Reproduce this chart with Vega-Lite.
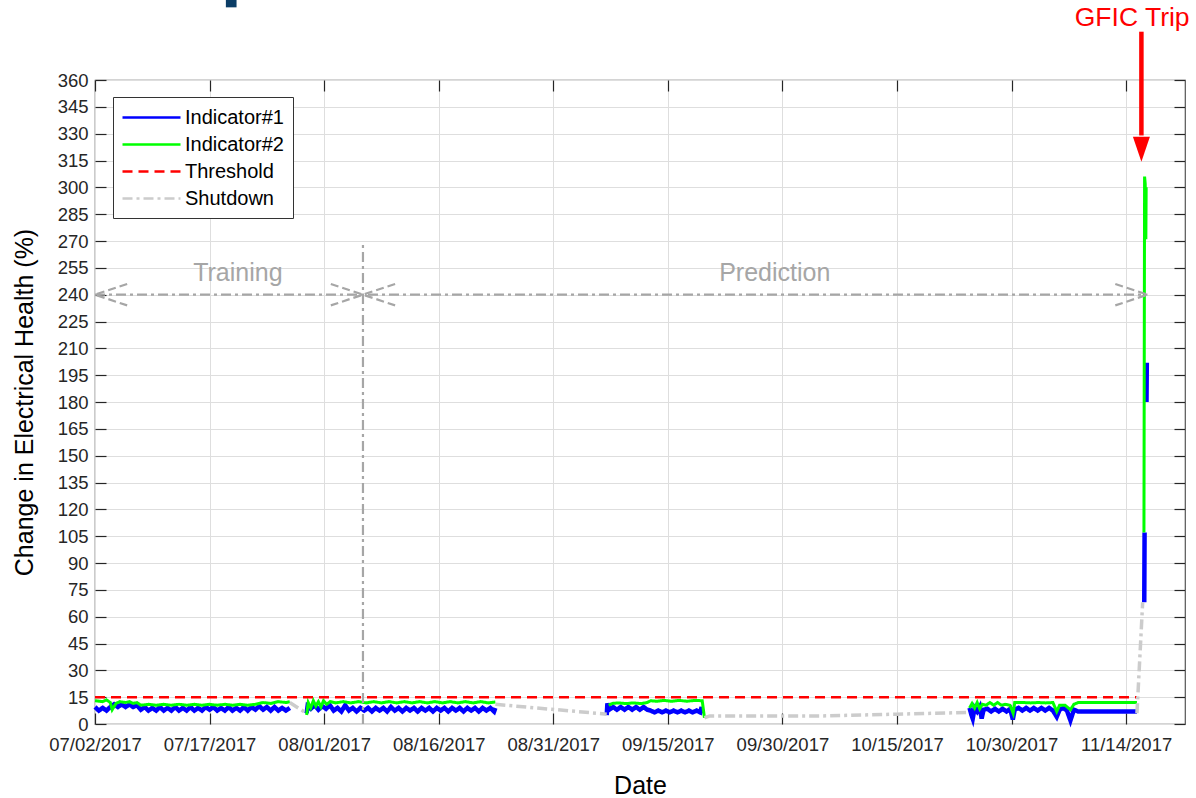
{
  "$schema": "https://vega.github.io/schema/vega-lite/v6.json",
  "width": 1090,
  "height": 644,
  "autosize": "none",
  "padding": {"left": 95, "top": 80, "right": 11, "bottom": 74},
  "background": "white",
  "config": {
    "font": "Liberation Sans",
    "view": {"stroke": "#555555", "strokeWidth": 1.2},
    "axis": {"labelFont": "Liberation Sans", "labelFontSize": 18.5, "labelColor": "#262626", "titleFont": "Liberation Sans", "titleFontSize": 25, "titleFontWeight": "normal", "titleColor": "#000000", "tickColor": "#262626", "tickWidth": 1.2, "tickSize": -11, "domain": false, "gridColor": "#dedede", "gridWidth": 1, "gridOpacity": 1, "labelOverlap": false, "labelFlush": false},
    "legend": {"orient": "none", "legendX": 18, "legendY": 17, "labelFont": "Liberation Sans", "labelFontSize": 20, "labelColor": "#000000", "strokeColor": "#333333", "fillColor": "#ffffff", "padding": 9, "rowPadding": 5, "symbolType": "M-2.9,0H2.9", "symbolSize": 400, "symbolStrokeWidth": 2.5, "symbolOffset": 18, "labelOffset": 22, "labelLimit": 300, "cornerRadius": 0}
  },
  "datasets": {
    "lines": [
      {"s":"Indicator#1","g":"b1","t":"2017-07-02T00:00","v":9.5},
      {"s":"Indicator#1","g":"b1","t":"2017-07-02T12:00","v":7.5},
      {"s":"Indicator#1","g":"b1","t":"2017-07-03T00:00","v":9},
      {"s":"Indicator#1","g":"b1","t":"2017-07-03T12:00","v":7.5},
      {"s":"Indicator#1","g":"b1","t":"2017-07-04T00:00","v":9.5},
      {"s":"Indicator#1","g":"b1","t":"2017-07-04T12:00","v":11},
      {"s":"Indicator#1","g":"b1","t":"2017-07-05T00:00","v":9.5},
      {"s":"Indicator#1","g":"b1","t":"2017-07-05T12:00","v":11},
      {"s":"Indicator#1","g":"b1","t":"2017-07-06T00:00","v":9.5},
      {"s":"Indicator#1","g":"b1","t":"2017-07-06T12:00","v":11},
      {"s":"Indicator#1","g":"b1","t":"2017-07-07T00:00","v":9.5},
      {"s":"Indicator#1","g":"b1","t":"2017-07-07T12:00","v":10.5},
      {"s":"Indicator#1","g":"b1","t":"2017-07-08T00:00","v":8},
      {"s":"Indicator#1","g":"b1","t":"2017-07-08T12:00","v":9.5},
      {"s":"Indicator#1","g":"b1","t":"2017-07-09T00:00","v":7.5},
      {"s":"Indicator#1","g":"b1","t":"2017-07-09T12:00","v":9},
      {"s":"Indicator#1","g":"b1","t":"2017-07-10T00:00","v":7.5},
      {"s":"Indicator#1","g":"b1","t":"2017-07-10T12:00","v":9.5},
      {"s":"Indicator#1","g":"b1","t":"2017-07-11T00:00","v":7.5},
      {"s":"Indicator#1","g":"b1","t":"2017-07-11T12:00","v":9},
      {"s":"Indicator#1","g":"b1","t":"2017-07-12T00:00","v":7.5},
      {"s":"Indicator#1","g":"b1","t":"2017-07-12T12:00","v":9.5},
      {"s":"Indicator#1","g":"b1","t":"2017-07-13T00:00","v":7.5},
      {"s":"Indicator#1","g":"b1","t":"2017-07-13T12:00","v":9},
      {"s":"Indicator#1","g":"b1","t":"2017-07-14T00:00","v":7.5},
      {"s":"Indicator#1","g":"b1","t":"2017-07-14T12:00","v":9.5},
      {"s":"Indicator#1","g":"b1","t":"2017-07-15T00:00","v":7.5},
      {"s":"Indicator#1","g":"b1","t":"2017-07-15T12:00","v":9},
      {"s":"Indicator#1","g":"b1","t":"2017-07-16T00:00","v":7.5},
      {"s":"Indicator#1","g":"b1","t":"2017-07-16T12:00","v":9.5},
      {"s":"Indicator#1","g":"b1","t":"2017-07-17T00:00","v":8},
      {"s":"Indicator#1","g":"b1","t":"2017-07-17T12:00","v":9.5},
      {"s":"Indicator#1","g":"b1","t":"2017-07-18T00:00","v":7.5},
      {"s":"Indicator#1","g":"b1","t":"2017-07-18T12:00","v":9},
      {"s":"Indicator#1","g":"b1","t":"2017-07-19T00:00","v":7.5},
      {"s":"Indicator#1","g":"b1","t":"2017-07-19T12:00","v":9.5},
      {"s":"Indicator#1","g":"b1","t":"2017-07-20T00:00","v":7.5},
      {"s":"Indicator#1","g":"b1","t":"2017-07-20T12:00","v":9},
      {"s":"Indicator#1","g":"b1","t":"2017-07-21T00:00","v":7.5},
      {"s":"Indicator#1","g":"b1","t":"2017-07-21T12:00","v":9.5},
      {"s":"Indicator#1","g":"b1","t":"2017-07-22T00:00","v":7.5},
      {"s":"Indicator#1","g":"b1","t":"2017-07-22T12:00","v":9.5},
      {"s":"Indicator#1","g":"b1","t":"2017-07-23T00:00","v":8},
      {"s":"Indicator#1","g":"b1","t":"2017-07-23T12:00","v":10},
      {"s":"Indicator#1","g":"b1","t":"2017-07-24T00:00","v":8},
      {"s":"Indicator#1","g":"b1","t":"2017-07-24T12:00","v":9.5},
      {"s":"Indicator#1","g":"b1","t":"2017-07-25T00:00","v":7.5},
      {"s":"Indicator#1","g":"b1","t":"2017-07-25T12:00","v":9.5},
      {"s":"Indicator#1","g":"b1","t":"2017-07-26T00:00","v":7.5},
      {"s":"Indicator#1","g":"b1","t":"2017-07-26T12:00","v":9},
      {"s":"Indicator#1","g":"b1","t":"2017-07-27T00:00","v":7.5},
      {"s":"Indicator#1","g":"b1","t":"2017-07-27T12:00","v":9},

      {"s":"Indicator#2","g":"g1","t":"2017-07-02T00:00","v":13},
      {"s":"Indicator#2","g":"g1","t":"2017-07-03T00:00","v":12.5},
      {"s":"Indicator#2","g":"g1","t":"2017-07-03T12:00","v":13.5},
      {"s":"Indicator#2","g":"g1","t":"2017-07-04T00:00","v":12},
      {"s":"Indicator#2","g":"g1","t":"2017-07-04T06:00","v":8},
      {"s":"Indicator#2","g":"g1","t":"2017-07-04T18:00","v":11.5},
      {"s":"Indicator#2","g":"g1","t":"2017-07-05T06:00","v":12.5},
      {"s":"Indicator#2","g":"g1","t":"2017-07-06T00:00","v":12},
      {"s":"Indicator#2","g":"g1","t":"2017-07-06T12:00","v":12.5},
      {"s":"Indicator#2","g":"g1","t":"2017-07-07T00:00","v":11.5},
      {"s":"Indicator#2","g":"g1","t":"2017-07-07T12:00","v":12},
      {"s":"Indicator#2","g":"g1","t":"2017-07-08T00:00","v":10.5},
      {"s":"Indicator#2","g":"g1","t":"2017-07-09T00:00","v":11},
      {"s":"Indicator#2","g":"g1","t":"2017-07-10T00:00","v":10.5},
      {"s":"Indicator#2","g":"g1","t":"2017-07-11T00:00","v":11},
      {"s":"Indicator#2","g":"g1","t":"2017-07-12T00:00","v":10.5},
      {"s":"Indicator#2","g":"g1","t":"2017-07-13T00:00","v":11},
      {"s":"Indicator#2","g":"g1","t":"2017-07-14T00:00","v":10.5},
      {"s":"Indicator#2","g":"g1","t":"2017-07-15T00:00","v":11},
      {"s":"Indicator#2","g":"g1","t":"2017-07-16T00:00","v":10.5},
      {"s":"Indicator#2","g":"g1","t":"2017-07-17T00:00","v":11},
      {"s":"Indicator#2","g":"g1","t":"2017-07-18T00:00","v":10.5},
      {"s":"Indicator#2","g":"g1","t":"2017-07-19T00:00","v":11},
      {"s":"Indicator#2","g":"g1","t":"2017-07-20T00:00","v":10.5},
      {"s":"Indicator#2","g":"g1","t":"2017-07-21T00:00","v":11},
      {"s":"Indicator#2","g":"g1","t":"2017-07-22T00:00","v":10.5},
      {"s":"Indicator#2","g":"g1","t":"2017-07-23T00:00","v":11},
      {"s":"Indicator#2","g":"g1","t":"2017-07-24T00:00","v":12},
      {"s":"Indicator#2","g":"g1","t":"2017-07-25T00:00","v":11.5},
      {"s":"Indicator#2","g":"g1","t":"2017-07-26T00:00","v":12.5},
      {"s":"Indicator#2","g":"g1","t":"2017-07-27T00:00","v":12},
      {"s":"Indicator#2","g":"g1","t":"2017-07-27T12:00","v":12.5},

      {"s":"Indicator#1","g":"b2","t":"2017-07-29T17:00","v":6},
      {"s":"Indicator#1","g":"b2","t":"2017-07-29T20:00","v":10},
      {"s":"Indicator#1","g":"b2","t":"2017-07-30T06:00","v":8.5},
      {"s":"Indicator#1","g":"b2","t":"2017-07-30T18:00","v":10.5},
      {"s":"Indicator#1","g":"b2","t":"2017-07-31T06:00","v":8},
      {"s":"Indicator#1","g":"b2","t":"2017-07-31T18:00","v":10},
      {"s":"Indicator#1","g":"b2","t":"2017-08-01T06:00","v":8.5},
      {"s":"Indicator#1","g":"b2","t":"2017-08-01T18:00","v":10.5},
      {"s":"Indicator#1","g":"b2","t":"2017-08-02T06:00","v":7.5},
      {"s":"Indicator#1","g":"b2","t":"2017-08-02T18:00","v":9},
      {"s":"Indicator#1","g":"b2","t":"2017-08-03T06:00","v":7},
      {"s":"Indicator#1","g":"b2","t":"2017-08-03T18:00","v":10.5},
      {"s":"Indicator#1","g":"b2","t":"2017-08-04T06:00","v":7.5},
      {"s":"Indicator#1","g":"b2","t":"2017-08-04T18:00","v":9},
      {"s":"Indicator#1","g":"b2","t":"2017-08-05T06:00","v":7},
      {"s":"Indicator#1","g":"b2","t":"2017-08-05T18:00","v":9},
      {"s":"Indicator#1","g":"b2","t":"2017-08-06T06:00","v":7.5},
      {"s":"Indicator#1","g":"b2","t":"2017-08-06T18:00","v":9},
      {"s":"Indicator#1","g":"b2","t":"2017-08-07T06:00","v":7},
      {"s":"Indicator#1","g":"b2","t":"2017-08-07T18:00","v":9},
      {"s":"Indicator#1","g":"b2","t":"2017-08-08T06:00","v":7.5},
      {"s":"Indicator#1","g":"b2","t":"2017-08-08T18:00","v":9},
      {"s":"Indicator#1","g":"b2","t":"2017-08-09T06:00","v":7},
      {"s":"Indicator#1","g":"b2","t":"2017-08-09T18:00","v":9.5},
      {"s":"Indicator#1","g":"b2","t":"2017-08-10T06:00","v":7.5},
      {"s":"Indicator#1","g":"b2","t":"2017-08-10T18:00","v":9},
      {"s":"Indicator#1","g":"b2","t":"2017-08-11T06:00","v":7},
      {"s":"Indicator#1","g":"b2","t":"2017-08-11T18:00","v":9},
      {"s":"Indicator#1","g":"b2","t":"2017-08-12T06:00","v":7.5},
      {"s":"Indicator#1","g":"b2","t":"2017-08-12T18:00","v":9},
      {"s":"Indicator#1","g":"b2","t":"2017-08-13T06:00","v":7},
      {"s":"Indicator#1","g":"b2","t":"2017-08-13T18:00","v":9},
      {"s":"Indicator#1","g":"b2","t":"2017-08-14T06:00","v":7.5},
      {"s":"Indicator#1","g":"b2","t":"2017-08-14T18:00","v":9},
      {"s":"Indicator#1","g":"b2","t":"2017-08-15T06:00","v":7},
      {"s":"Indicator#1","g":"b2","t":"2017-08-15T18:00","v":9},
      {"s":"Indicator#1","g":"b2","t":"2017-08-16T06:00","v":7.5},
      {"s":"Indicator#1","g":"b2","t":"2017-08-16T18:00","v":9},
      {"s":"Indicator#1","g":"b2","t":"2017-08-17T06:00","v":7},
      {"s":"Indicator#1","g":"b2","t":"2017-08-17T18:00","v":9},
      {"s":"Indicator#1","g":"b2","t":"2017-08-18T06:00","v":7.5},
      {"s":"Indicator#1","g":"b2","t":"2017-08-18T18:00","v":9},
      {"s":"Indicator#1","g":"b2","t":"2017-08-19T06:00","v":7},
      {"s":"Indicator#1","g":"b2","t":"2017-08-19T18:00","v":9},
      {"s":"Indicator#1","g":"b2","t":"2017-08-20T06:00","v":7.5},
      {"s":"Indicator#1","g":"b2","t":"2017-08-20T18:00","v":9},
      {"s":"Indicator#1","g":"b2","t":"2017-08-21T06:00","v":7},
      {"s":"Indicator#1","g":"b2","t":"2017-08-21T18:00","v":9},
      {"s":"Indicator#1","g":"b2","t":"2017-08-22T06:00","v":7.5},
      {"s":"Indicator#1","g":"b2","t":"2017-08-22T18:00","v":9},
      {"s":"Indicator#1","g":"b2","t":"2017-08-23T06:00","v":7},
      {"s":"Indicator#1","g":"b2","t":"2017-08-23T10:00","v":9},

      {"s":"Indicator#2","g":"g2","t":"2017-07-29T17:00","v":5},
      {"s":"Indicator#2","g":"g2","t":"2017-07-29T22:00","v":12},
      {"s":"Indicator#2","g":"g2","t":"2017-07-30T06:00","v":9},
      {"s":"Indicator#2","g":"g2","t":"2017-07-30T14:00","v":13},
      {"s":"Indicator#2","g":"g2","t":"2017-07-30T22:00","v":10},
      {"s":"Indicator#2","g":"g2","t":"2017-07-31T06:00","v":12.5},
      {"s":"Indicator#2","g":"g2","t":"2017-07-31T14:00","v":9.5},
      {"s":"Indicator#2","g":"g2","t":"2017-07-31T22:00","v":13},
      {"s":"Indicator#2","g":"g2","t":"2017-08-01T08:00","v":11},
      {"s":"Indicator#2","g":"g2","t":"2017-08-01T19:00","v":12.5},
      {"s":"Indicator#2","g":"g2","t":"2017-08-02T12:00","v":11.8},
      {"s":"Indicator#2","g":"g2","t":"2017-08-03T12:00","v":12.5},
      {"s":"Indicator#2","g":"g2","t":"2017-08-04T12:00","v":11.8},
      {"s":"Indicator#2","g":"g2","t":"2017-08-05T12:00","v":12.5},
      {"s":"Indicator#2","g":"g2","t":"2017-08-06T12:00","v":11.8},
      {"s":"Indicator#2","g":"g2","t":"2017-08-07T12:00","v":12.5},
      {"s":"Indicator#2","g":"g2","t":"2017-08-08T12:00","v":11.8},
      {"s":"Indicator#2","g":"g2","t":"2017-08-09T12:00","v":12.5},
      {"s":"Indicator#2","g":"g2","t":"2017-08-10T12:00","v":11.8},
      {"s":"Indicator#2","g":"g2","t":"2017-08-11T12:00","v":12.5},
      {"s":"Indicator#2","g":"g2","t":"2017-08-12T12:00","v":11.8},
      {"s":"Indicator#2","g":"g2","t":"2017-08-13T12:00","v":12.5},
      {"s":"Indicator#2","g":"g2","t":"2017-08-14T12:00","v":11.8},
      {"s":"Indicator#2","g":"g2","t":"2017-08-15T12:00","v":12.5},
      {"s":"Indicator#2","g":"g2","t":"2017-08-16T12:00","v":11.8},
      {"s":"Indicator#2","g":"g2","t":"2017-08-17T12:00","v":12.5},
      {"s":"Indicator#2","g":"g2","t":"2017-08-18T12:00","v":11.8},
      {"s":"Indicator#2","g":"g2","t":"2017-08-19T12:00","v":12.5},
      {"s":"Indicator#2","g":"g2","t":"2017-08-20T12:00","v":11.8},
      {"s":"Indicator#2","g":"g2","t":"2017-08-21T12:00","v":12.5},
      {"s":"Indicator#2","g":"g2","t":"2017-08-22T12:00","v":11.8},
      {"s":"Indicator#2","g":"g2","t":"2017-08-23T10:00","v":12.3},

      {"s":"Indicator#1","g":"b3","t":"2017-09-07T00:00","v":5},
      {"s":"Indicator#1","g":"b3","t":"2017-09-07T02:00","v":11.5},
      {"s":"Indicator#1","g":"b3","t":"2017-09-07T08:00","v":8},
      {"s":"Indicator#1","g":"b3","t":"2017-09-07T20:00","v":9.5},
      {"s":"Indicator#1","g":"b3","t":"2017-09-08T08:00","v":8},
      {"s":"Indicator#1","g":"b3","t":"2017-09-08T20:00","v":9.5},
      {"s":"Indicator#1","g":"b3","t":"2017-09-09T08:00","v":8},
      {"s":"Indicator#1","g":"b3","t":"2017-09-09T20:00","v":9.5},
      {"s":"Indicator#1","g":"b3","t":"2017-09-10T08:00","v":8},
      {"s":"Indicator#1","g":"b3","t":"2017-09-10T20:00","v":9.5},
      {"s":"Indicator#1","g":"b3","t":"2017-09-11T08:00","v":8},
      {"s":"Indicator#1","g":"b3","t":"2017-09-11T20:00","v":9.5},
      {"s":"Indicator#1","g":"b3","t":"2017-09-12T07:00","v":8},
      {"s":"Indicator#1","g":"b3","t":"2017-09-12T18:00","v":7.5},
      {"s":"Indicator#1","g":"b3","t":"2017-09-13T06:00","v":6.5},
      {"s":"Indicator#1","g":"b3","t":"2017-09-13T18:00","v":7.5},
      {"s":"Indicator#1","g":"b3","t":"2017-09-14T06:00","v":6.5},
      {"s":"Indicator#1","g":"b3","t":"2017-09-14T18:00","v":7.5},
      {"s":"Indicator#1","g":"b3","t":"2017-09-15T06:00","v":6.5},
      {"s":"Indicator#1","g":"b3","t":"2017-09-15T18:00","v":7.5},
      {"s":"Indicator#1","g":"b3","t":"2017-09-16T06:00","v":6.5},
      {"s":"Indicator#1","g":"b3","t":"2017-09-16T18:00","v":7.5},
      {"s":"Indicator#1","g":"b3","t":"2017-09-17T06:00","v":6.5},
      {"s":"Indicator#1","g":"b3","t":"2017-09-17T18:00","v":7.5},
      {"s":"Indicator#1","g":"b3","t":"2017-09-18T06:00","v":6.5},
      {"s":"Indicator#1","g":"b3","t":"2017-09-18T18:00","v":7.5},
      {"s":"Indicator#1","g":"b3","t":"2017-09-19T06:00","v":6.5},
      {"s":"Indicator#1","g":"b3","t":"2017-09-19T10:00","v":9.5},
      {"s":"Indicator#1","g":"b3","t":"2017-09-19T12:00","v":6},

      {"s":"Indicator#2","g":"g3","t":"2017-09-07T06:00","v":10.5},
      {"s":"Indicator#2","g":"g3","t":"2017-09-07T18:00","v":11.5},
      {"s":"Indicator#2","g":"g3","t":"2017-09-08T12:00","v":11.8},
      {"s":"Indicator#2","g":"g3","t":"2017-09-09T12:00","v":11.4},
      {"s":"Indicator#2","g":"g3","t":"2017-09-10T12:00","v":11.8},
      {"s":"Indicator#2","g":"g3","t":"2017-09-11T12:00","v":11.4},
      {"s":"Indicator#2","g":"g3","t":"2017-09-12T07:00","v":12},
      {"s":"Indicator#2","g":"g3","t":"2017-09-12T18:00","v":13},
      {"s":"Indicator#2","g":"g3","t":"2017-09-13T12:00","v":12.7},
      {"s":"Indicator#2","g":"g3","t":"2017-09-14T12:00","v":13.2},
      {"s":"Indicator#2","g":"g3","t":"2017-09-15T12:00","v":12.7},
      {"s":"Indicator#2","g":"g3","t":"2017-09-16T12:00","v":13.2},
      {"s":"Indicator#2","g":"g3","t":"2017-09-17T12:00","v":12.7},
      {"s":"Indicator#2","g":"g3","t":"2017-09-18T12:00","v":13.2},
      {"s":"Indicator#2","g":"g3","t":"2017-09-19T12:00","v":13},
      {"s":"Indicator#2","g":"g3","t":"2017-09-19T19:00","v":3.5},

      {"s":"Indicator#1","g":"b4","t":"2017-10-24T12:00","v":9},
      {"s":"Indicator#1","g":"b4","t":"2017-10-24T18:00","v":5},
      {"s":"Indicator#1","g":"b4","t":"2017-10-24T22:00","v":3},
      {"s":"Indicator#1","g":"b4","t":"2017-10-25T04:00","v":9},
      {"s":"Indicator#1","g":"b4","t":"2017-10-25T12:00","v":7},
      {"s":"Indicator#1","g":"b4","t":"2017-10-25T20:00","v":9.5},
      {"s":"Indicator#1","g":"b4","t":"2017-10-26T02:00","v":3},
      {"s":"Indicator#1","g":"b4","t":"2017-10-26T08:00","v":8},
      {"s":"Indicator#1","g":"b4","t":"2017-10-26T20:00","v":8.5},
      {"s":"Indicator#1","g":"b4","t":"2017-10-27T08:00","v":7},
      {"s":"Indicator#1","g":"b4","t":"2017-10-27T20:00","v":8.5},
      {"s":"Indicator#1","g":"b4","t":"2017-10-28T08:00","v":7},
      {"s":"Indicator#1","g":"b4","t":"2017-10-28T20:00","v":8.5},
      {"s":"Indicator#1","g":"b4","t":"2017-10-29T08:00","v":7},
      {"s":"Indicator#1","g":"b4","t":"2017-10-29T20:00","v":8.5},
      {"s":"Indicator#1","g":"b4","t":"2017-10-30T04:00","v":2.5},
      {"s":"Indicator#1","g":"b4","t":"2017-10-30T10:00","v":8},
      {"s":"Indicator#1","g":"b4","t":"2017-10-30T22:00","v":9},
      {"s":"Indicator#1","g":"b4","t":"2017-10-31T10:00","v":7.5},
      {"s":"Indicator#1","g":"b4","t":"2017-10-31T22:00","v":9},
      {"s":"Indicator#1","g":"b4","t":"2017-11-01T10:00","v":7.5},
      {"s":"Indicator#1","g":"b4","t":"2017-11-01T22:00","v":9},
      {"s":"Indicator#1","g":"b4","t":"2017-11-02T10:00","v":7.5},
      {"s":"Indicator#1","g":"b4","t":"2017-11-02T22:00","v":9},
      {"s":"Indicator#1","g":"b4","t":"2017-11-03T10:00","v":7.5},
      {"s":"Indicator#1","g":"b4","t":"2017-11-03T22:00","v":9},
      {"s":"Indicator#1","g":"b4","t":"2017-11-04T10:00","v":7.5},
      {"s":"Indicator#1","g":"b4","t":"2017-11-04T22:00","v":4},
      {"s":"Indicator#1","g":"b4","t":"2017-11-05T07:00","v":8},
      {"s":"Indicator#1","g":"b4","t":"2017-11-05T19:00","v":9},
      {"s":"Indicator#1","g":"b4","t":"2017-11-06T06:00","v":7.5},
      {"s":"Indicator#1","g":"b4","t":"2017-11-06T17:00","v":2},
      {"s":"Indicator#1","g":"b4","t":"2017-11-07T04:00","v":8},
      {"s":"Indicator#1","g":"b4","t":"2017-11-07T17:00","v":7},
      {"s":"Indicator#1","g":"b4","t":"2017-11-09T12:00","v":7},
      {"s":"Indicator#1","g":"b4","t":"2017-11-12T12:00","v":7},
      {"s":"Indicator#1","g":"b4","t":"2017-11-15T10:00","v":7},

      {"s":"Indicator#2","g":"g4","t":"2017-10-24T12:00","v":9},
      {"s":"Indicator#2","g":"g4","t":"2017-10-24T20:00","v":11.5},
      {"s":"Indicator#2","g":"g4","t":"2017-10-25T04:00","v":9},
      {"s":"Indicator#2","g":"g4","t":"2017-10-25T12:00","v":12},
      {"s":"Indicator#2","g":"g4","t":"2017-10-25T20:00","v":8.5},
      {"s":"Indicator#2","g":"g4","t":"2017-10-26T04:00","v":11},
      {"s":"Indicator#2","g":"g4","t":"2017-10-26T16:00","v":10.5},
      {"s":"Indicator#2","g":"g4","t":"2017-10-27T04:00","v":12},
      {"s":"Indicator#2","g":"g4","t":"2017-10-27T16:00","v":10.5},
      {"s":"Indicator#2","g":"g4","t":"2017-10-28T04:00","v":12},
      {"s":"Indicator#2","g":"g4","t":"2017-10-28T16:00","v":10.5},
      {"s":"Indicator#2","g":"g4","t":"2017-10-29T04:00","v":11},
      {"s":"Indicator#2","g":"g4","t":"2017-10-29T19:00","v":10.5},
      {"s":"Indicator#2","g":"g4","t":"2017-10-30T05:00","v":6},
      {"s":"Indicator#2","g":"g4","t":"2017-10-30T10:00","v":12},
      {"s":"Indicator#2","g":"g4","t":"2017-10-31T12:00","v":12},
      {"s":"Indicator#2","g":"g4","t":"2017-11-01T12:00","v":11.8},
      {"s":"Indicator#2","g":"g4","t":"2017-11-02T12:00","v":12},
      {"s":"Indicator#2","g":"g4","t":"2017-11-03T12:00","v":11.8},
      {"s":"Indicator#2","g":"g4","t":"2017-11-04T10:00","v":12},
      {"s":"Indicator#2","g":"g4","t":"2017-11-04T22:00","v":7},
      {"s":"Indicator#2","g":"g4","t":"2017-11-05T07:00","v":10.5},
      {"s":"Indicator#2","g":"g4","t":"2017-11-06T00:00","v":10.5},
      {"s":"Indicator#2","g":"g4","t":"2017-11-06T17:00","v":8},
      {"s":"Indicator#2","g":"g4","t":"2017-11-07T04:00","v":11},
      {"s":"Indicator#2","g":"g4","t":"2017-11-07T17:00","v":12},
      {"s":"Indicator#2","g":"g4","t":"2017-11-10T00:00","v":12},
      {"s":"Indicator#2","g":"g4","t":"2017-11-13T00:00","v":12},
      {"s":"Indicator#2","g":"g4","t":"2017-11-15T10:00","v":12},

      {"s":"Indicator#2","g":"g5","t":"2017-11-16T08:00","v":107},
      {"s":"Indicator#2","g":"g5","t":"2017-11-16T10:00","v":306},
      {"s":"Indicator#2","g":"g5","t":"2017-11-16T12:00","v":302},
      {"s":"Indicator#2","g":"g5","t":"2017-11-16T14:00","v":271},
      {"s":"Indicator#2","g":"g5","t":"2017-11-16T15:00","v":300},

      {"s":"Indicator#1","g":"b5","t":"2017-11-16T09:00","v":68},
      {"s":"Indicator#1","g":"b5","t":"2017-11-16T10:00","v":107},
      {"s":"Indicator#1","g":"b6","t":"2017-11-16T16:00","v":180},
      {"s":"Indicator#1","g":"b6","t":"2017-11-16T17:00","v":202},

      {"s":"Threshold","g":"t1","t":"2017-07-02T00:00","v":15},
      {"s":"Threshold","g":"t1","t":"2017-11-15T10:00","v":15},

      {"s":"Shutdown","g":"s1","t":"2017-07-27T12:00","v":12},
      {"s":"Shutdown","g":"s1","t":"2017-07-29T17:00","v":6},
      {"s":"Shutdown","g":"s2","t":"2017-08-23T10:00","v":11},
      {"s":"Shutdown","g":"s2","t":"2017-09-07T00:00","v":5.5},
      {"s":"Shutdown","g":"s3","t":"2017-09-19T19:00","v":3.5},
      {"s":"Shutdown","g":"s3","t":"2017-09-20T12:00","v":4.5},
      {"s":"Shutdown","g":"s3","t":"2017-10-05T00:00","v":4.5},
      {"s":"Shutdown","g":"s3","t":"2017-10-15T00:00","v":5.5},
      {"s":"Shutdown","g":"s3","t":"2017-10-24T12:00","v":6.5},
      {"s":"Shutdown","g":"s4","t":"2017-11-15T10:00","v":6},
      {"s":"Shutdown","g":"s4","t":"2017-11-16T04:00","v":68}
    ],
    "ann": [
      {"k":"main","id":"h","o":1,"t":"2017-07-02T00:00","v":240},
      {"k":"main","id":"h","o":2,"t":"2017-11-16T19:00","v":240},
      {"k":"main","id":"v","o":1,"t":"2017-08-06T02:00","v":0},
      {"k":"main","id":"v","o":2,"t":"2017-08-06T02:00","v":270},
      {"k":"arm","id":"a1","o":1,"t":"2017-07-06T05:00","v":246},
      {"k":"arm","id":"a1","o":2,"t":"2017-07-02T00:00","v":240},
      {"k":"arm","id":"a1","o":3,"t":"2017-07-06T05:00","v":234},
      {"k":"arm","id":"a2","o":1,"t":"2017-08-01T21:00","v":246},
      {"k":"arm","id":"a2","o":2,"t":"2017-08-06T02:00","v":240},
      {"k":"arm","id":"a2","o":3,"t":"2017-08-01T21:00","v":234},
      {"k":"arm","id":"a3","o":1,"t":"2017-08-10T07:00","v":246},
      {"k":"arm","id":"a3","o":2,"t":"2017-08-06T02:00","v":240},
      {"k":"arm","id":"a3","o":3,"t":"2017-08-10T07:00","v":234},
      {"k":"arm","id":"a4","o":1,"t":"2017-11-12T14:00","v":246},
      {"k":"arm","id":"a4","o":2,"t":"2017-11-16T19:00","v":240},
      {"k":"arm","id":"a4","o":3,"t":"2017-11-12T14:00","v":234}
    ]
  },
  "resolve": {"axis": {"x": "independent", "y": "independent"}},
  "layer": [
    {
      "data": {"name": "lines"},
      "transform": [{"filter": "datum.s === 'Indicator#1'"}],
      "mark": {"type": "line", "strokeWidth": 4.5, "strokeCap": "butt"},
      "encoding": {
        "x": {"field": "t", "type": "temporal", "scale": {"domain": [{"year": 2017, "month": 7, "date": 2}, {"year": 2017, "month": 11, "date": 21, "hours": 17}]},
          "axis": {"orient": "bottom", "values": [{"year":2017,"month":7,"date":2},{"year":2017,"month":7,"date":17},{"year":2017,"month":8,"date":1},{"year":2017,"month":8,"date":16},{"year":2017,"month":8,"date":31},{"year":2017,"month":9,"date":15},{"year":2017,"month":9,"date":30},{"year":2017,"month":10,"date":15},{"year":2017,"month":10,"date":30},{"year":2017,"month":11,"date":14}], "format": "%m/%d/%Y", "grid": true, "labelPadding": 22, "title": "Date", "titlePadding": 20}},
        "y": {"field": "v", "type": "quantitative", "scale": {"domain": [0, 360], "nice": false},
          "axis": {"orient": "left", "values": [0,15,30,45,60,75,90,105,120,135,150,165,180,195,210,225,240,255,270,285,300,315,330,345,360], "grid": true, "labelPadding": 18, "title": "Change in Electrical Health (%)", "titlePadding": 20}},
        "color": {"field": "s", "type": "nominal", "scale": {"domain": ["Indicator#1", "Indicator#2", "Threshold", "Shutdown"], "range": ["#0000ff", "#00ff00", "#ff0000", "#cccccc"]}, "legend": {"title": null}},
        "strokeDash": {"field": "s", "type": "nominal", "scale": {"domain": ["Indicator#1", "Indicator#2", "Threshold", "Shutdown"], "range": [[1, 0], [1, 0], [10, 6], [10, 4, 3, 4]]}, "legend": {"title": null}},
        "detail": {"field": "g"}
      }
    },
    {
      "data": {"name": "lines"},
      "transform": [{"filter": "datum.s === 'Indicator#2'"}],
      "mark": {"type": "line", "strokeWidth": 3, "strokeCap": "butt"},
      "encoding": {
        "x": {"field": "t", "type": "temporal", "axis": null},
        "y": {"field": "v", "type": "quantitative", "axis": null},
        "color": {"field": "s", "type": "nominal", "legend": {"title": null}},
        "strokeDash": {"field": "s", "type": "nominal", "legend": {"title": null}},
        "detail": {"field": "g"}
      }
    },
    {
      "data": {"name": "lines"},
      "transform": [{"filter": "datum.s === 'Threshold'"}],
      "mark": {"type": "line", "strokeWidth": 2.5},
      "encoding": {
        "x": {"field": "t", "type": "temporal",
          "axis": {"orient": "top", "values": [{"year":2017,"month":7,"date":2},{"year":2017,"month":7,"date":17},{"year":2017,"month":8,"date":1},{"year":2017,"month":8,"date":16},{"year":2017,"month":8,"date":31},{"year":2017,"month":9,"date":15},{"year":2017,"month":9,"date":30},{"year":2017,"month":10,"date":15},{"year":2017,"month":10,"date":30},{"year":2017,"month":11,"date":14}], "labels": false, "grid": false, "title": null}},
        "y": {"field": "v", "type": "quantitative",
          "axis": {"orient": "right", "values": [0,15,30,45,60,75,90,105,120,135,150,165,180,195,210,225,240,255,270,285,300,315,330,345,360], "labels": false, "grid": false, "title": null}},
        "color": {"field": "s", "type": "nominal", "legend": {"title": null}},
        "strokeDash": {"field": "s", "type": "nominal", "legend": {"title": null}},
        "detail": {"field": "g"}
      }
    },
    {
      "data": {"name": "lines"},
      "transform": [{"filter": "datum.s === 'Shutdown'"}],
      "mark": {"type": "line", "strokeWidth": 3.5},
      "encoding": {
        "x": {"field": "t", "type": "temporal", "axis": null},
        "y": {"field": "v", "type": "quantitative", "axis": null},
        "color": {"field": "s", "type": "nominal", "legend": {"title": null}},
        "strokeDash": {"field": "s", "type": "nominal", "legend": {"title": null}},
        "detail": {"field": "g"}
      }
    },
    {
      "data": {"name": "ann"},
      "transform": [{"filter": "datum.k === 'main'"}],
      "mark": {"type": "line", "color": "#a6a6a6", "strokeWidth": 2.2, "strokeDash": [10, 4, 3, 4]},
      "encoding": {
        "x": {"field": "t", "type": "temporal", "axis": null},
        "y": {"field": "v", "type": "quantitative", "axis": null},
        "detail": {"field": "id"},
        "order": {"field": "o"}
      }
    },
    {
      "data": {"name": "ann"},
      "transform": [{"filter": "datum.k === 'arm'"}],
      "mark": {"type": "line", "color": "#a6a6a6", "strokeWidth": 2.2, "strokeDash": [8, 4]},
      "encoding": {
        "x": {"field": "t", "type": "temporal", "axis": null},
        "y": {"field": "v", "type": "quantitative", "axis": null},
        "detail": {"field": "id"},
        "order": {"field": "o"}
      }
    },
    {
      "data": {"values": [
        {"label": "Training", "t": "2017-07-20T17:00", "v": 252},
        {"label": "Prediction", "t": "2017-09-29T00:00", "v": 252}
      ]},
      "mark": {"type": "text", "font": "Liberation Sans", "fontSize": 25, "color": "#a6a6a6", "align": "center", "baseline": "middle"},
      "encoding": {
        "x": {"field": "t", "type": "temporal", "axis": null},
        "y": {"field": "v", "type": "quantitative", "axis": null},
        "text": {"field": "label"}
      }
    },
    {
      "data": {"values": [{"label": "GFIC Trip", "t": "2017-11-14T19:00", "v": 394.6}]},
      "mark": {"type": "text", "font": "Liberation Sans", "fontSize": 26.5, "color": "#ff0000", "align": "center", "baseline": "middle"},
      "encoding": {
        "x": {"field": "t", "type": "temporal", "axis": null},
        "y": {"field": "v", "type": "quantitative", "axis": null},
        "text": {"field": "label"}
      }
    },
    {
      "data": {"values": [{"t": "2017-11-16T00:00", "v": 387, "v2": 329}]},
      "mark": {"type": "rule", "color": "#ff0000", "strokeWidth": 4.5},
      "encoding": {
        "x": {"field": "t", "type": "temporal", "axis": null},
        "y": {"field": "v", "type": "quantitative", "axis": null},
        "y2": {"field": "v2"}
      }
    },
    {
      "data": {"values": [{"t": "2017-11-16T00:00", "v": 321.3}]},
      "mark": {"type": "point", "shape": "M-0.68,-1H0.68L0,1Z", "size": 625, "filled": true, "color": "#ff0000", "opacity": 1, "strokeWidth": 0},
      "encoding": {
        "x": {"field": "t", "type": "temporal", "axis": null},
        "y": {"field": "v", "type": "quantitative", "axis": null}
      }
    },
    {
      "data": {"values": [{"t": "2017-07-19T20:00", "v": 403.6}]},
      "mark": {"type": "point", "shape": "square", "size": 114, "filled": true, "color": "#0b3d66", "opacity": 1, "strokeWidth": 0},
      "encoding": {
        "x": {"field": "t", "type": "temporal", "axis": null},
        "y": {"field": "v", "type": "quantitative", "axis": null}
      }
    }
  ]
}
